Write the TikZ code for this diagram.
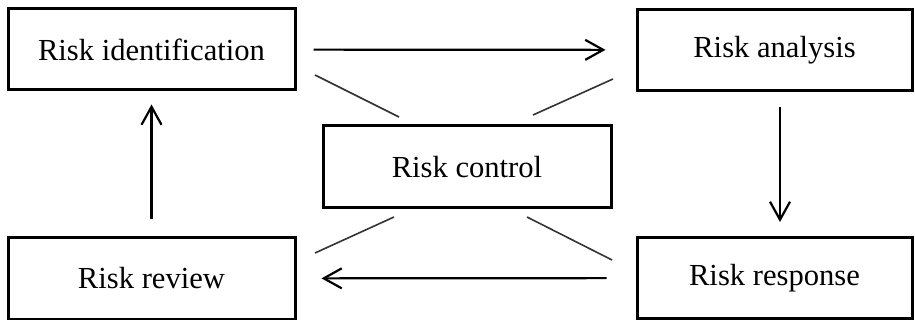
\documentclass[tikz,border=0pt]{standalone}
\usepackage{fontspec}
\setmainfont{Liberation Serif}
\usetikzlibrary{arrows.meta}

\begin{document}
\begin{tikzpicture}[x=0.5pt,y=-0.5pt,
    stage/.style={
        rectangle,
        draw,
        line width=1.5pt,
        minimum height=40.5pt,
        font=\fontsize{15.3}{18}\selectfont
      },
    flow/.style={->,line width=1.1pt},
    link/.style={line width=0.8pt,draw=black!80},
    >={Straight Barb[length=9pt,width=10pt]}]
    \useasboundingbox (0,0) rectangle (915,320);
    \node[stage,minimum width=143.5pt] (I) at (151.5,49.5) {Risk identification};
    \node[stage,minimum width=137.5pt] (A) at (774.5,50) {Risk analysis};
    \node[stage,minimum width=144pt,minimum height=41pt] (C) at (467,167) {Risk control};
    \node[stage,minimum width=137.5pt] (S) at (774.5,278) {Risk response};
    \node[stage,minimum width=143.5pt] (V) at (151.5,278.5) {Risk review};
    % cycle
    \draw[flow,shorten <=8.5pt,shorten >=15pt] (I) -- (A);
    \draw[flow,shorten <=7.5pt,shorten >=7pt] ([xshift=2.75pt]A.south) -- ([xshift=2.75pt]S.north);
    \draw[flow,shorten <=14.5pt,shorten >=12.5pt] (S) -- (V);
    \draw[flow,shorten <=8.5pt,shorten >=6.5pt] (V) -- (I);
    % ties to control
    \coordinate (c1) at (315,75);
    \coordinate (c2) at (399,117);
    \coordinate (c3) at (533,115);
    \coordinate (c4) at (613,79);
    \coordinate (c5) at (315,253);
    \coordinate (c6) at (394,217);
    \coordinate (c7) at (527,217);
    \coordinate (c8) at (612,260);
    \draw[link] (c1) -- (c2);
    \draw[link] (c3) -- (c4);
    \draw[link] (c5) -- (c6);
    \draw[link] (c7) -- (c8);
  \end{tikzpicture}
\end{document}
